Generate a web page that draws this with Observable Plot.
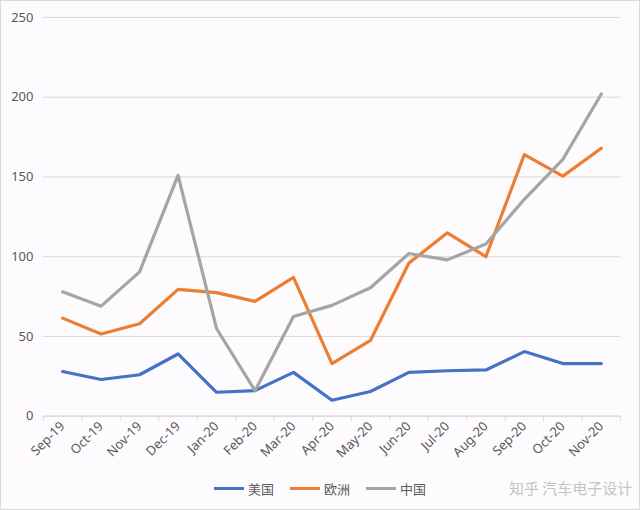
<!DOCTYPE html>
<html>
<head>
<meta charset="utf-8">
<script src="https://cdn.jsdelivr.net/npm/d3@7"></script>
<script src="https://cdn.jsdelivr.net/npm/@observablehq/plot@0.6"></script>
<style>
  html, body { margin: 0; padding: 0; background: #fff; }
  #wrap { width: 638px; height: 508px; border: 1px solid #d9d9d9; background: #fdfbfd; position: relative; overflow: hidden;
          font-family: "Noto Sans", "Noto Sans CJK SC", sans-serif; }
  #legend { position: absolute; left: 0; width: 638px; top: 478px; display: flex; justify-content: center; gap: 16px; font-size: 13px; color: #595959; }
  #legend span.item { display: flex; align-items: center; gap: 4px; font-family: "Noto Sans CJK SC", sans-serif; }
  #legend span.sw { display: inline-block; width: 30px; height: 3px; }
  #wm { position: absolute; left: 508px; top: 476px; font-size: 15px; white-space: nowrap; color: #c4c4c4; font-family: "Noto Sans CJK SC", sans-serif; }
</style>
</head>
<body>
<div id="wrap">
  <div id="chart"></div>
  <div id="legend"></div>
  <div id="wm">知乎 汽车电子设计</div>
</div>
<script>
const months = ["Sep-19","Oct-19","Nov-19","Dec-19","Jan-20","Feb-20","Mar-20","Apr-20","May-20","Jun-20","Jul-20","Aug-20","Sep-20","Oct-20","Nov-20"];
const seriesNames = ["美国","欧洲","中国"];
const usValues = [28, 23, 26, 39, 15, 16, 27.5, 10, 15.5, 27.5, 28.5, 29, 40.5, 33, 33];
const euValues = [61.5, 51.5, 58, 79.5, 77.5, 72, 87, 33, 47.5, 96, 115, 100, 164, 150.5, 168];
const cnValues = [78, 69, 90.5, 151, 55, 16, 62.5, 69.5, 80.5, 102, 98, 108, 136, 161, 202];
const yTicks = [0, 50, 100, 150, 200, 250];
const colors = ["#4472C4", "#ED7D31", "#A5A5A5"];

const valuesBySeries = [usValues, euValues, cnValues];
const data = [];
valuesBySeries.forEach((vals, s) => vals.forEach((v, i) => data.push({series: seriesNames[s], i, value: v})));

const chart = Plot.plot({
  width: 640,
  height: 470,
  marginTop: 16,
  marginBottom: 54,
  marginLeft: 42,
  marginRight: 19,
  style: { background: "transparent", fontFamily: "'Noto Sans', 'Noto Sans CJK SC', sans-serif", fontSize: "13px", color: "#595959" },
  x: { type: "linear", domain: [-0.5, months.length - 0.5] },
  y: { domain: [0, 250] },
  color: { domain: seriesNames, range: colors },
  marks: [
    Plot.gridY(yTicks, { stroke: "#d9d9d9", strokeOpacity: 1 }),
    Plot.ruleY([0], { stroke: "#d9d9d9" }),
    Plot.axisY(yTicks, { tickSize: 0, tickPadding: 10, label: null, fill: "#595959", fontSize: 13 }),
    Plot.axisX(d3.range(-0.5, months.length, 1), { tickSize: 5, stroke: "#d9d9d9", tickFormat: () => "", label: null }),
    Plot.axisX(d3.range(months.length), { tickSize: 0, tickPadding: 8, tickRotate: -45, tickFormat: i => months[i], label: null, fill: "#595959", fontSize: 13 }),
    Plot.line(data, { x: "i", y: "value", z: "series", stroke: "series", strokeWidth: 3.2, strokeLinejoin: "round", strokeLinecap: "round" })
  ]
});
document.getElementById("chart").appendChild(chart);

const legend = document.getElementById("legend");
seriesNames.forEach((n, k) => {
  const item = document.createElement("span");
  item.className = "item";
  const sw = document.createElement("span");
  sw.className = "sw";
  sw.style.background = colors[k];
  item.appendChild(sw);
  item.appendChild(document.createTextNode(n));
  legend.appendChild(item);
});
</script>
</body>
</html>
